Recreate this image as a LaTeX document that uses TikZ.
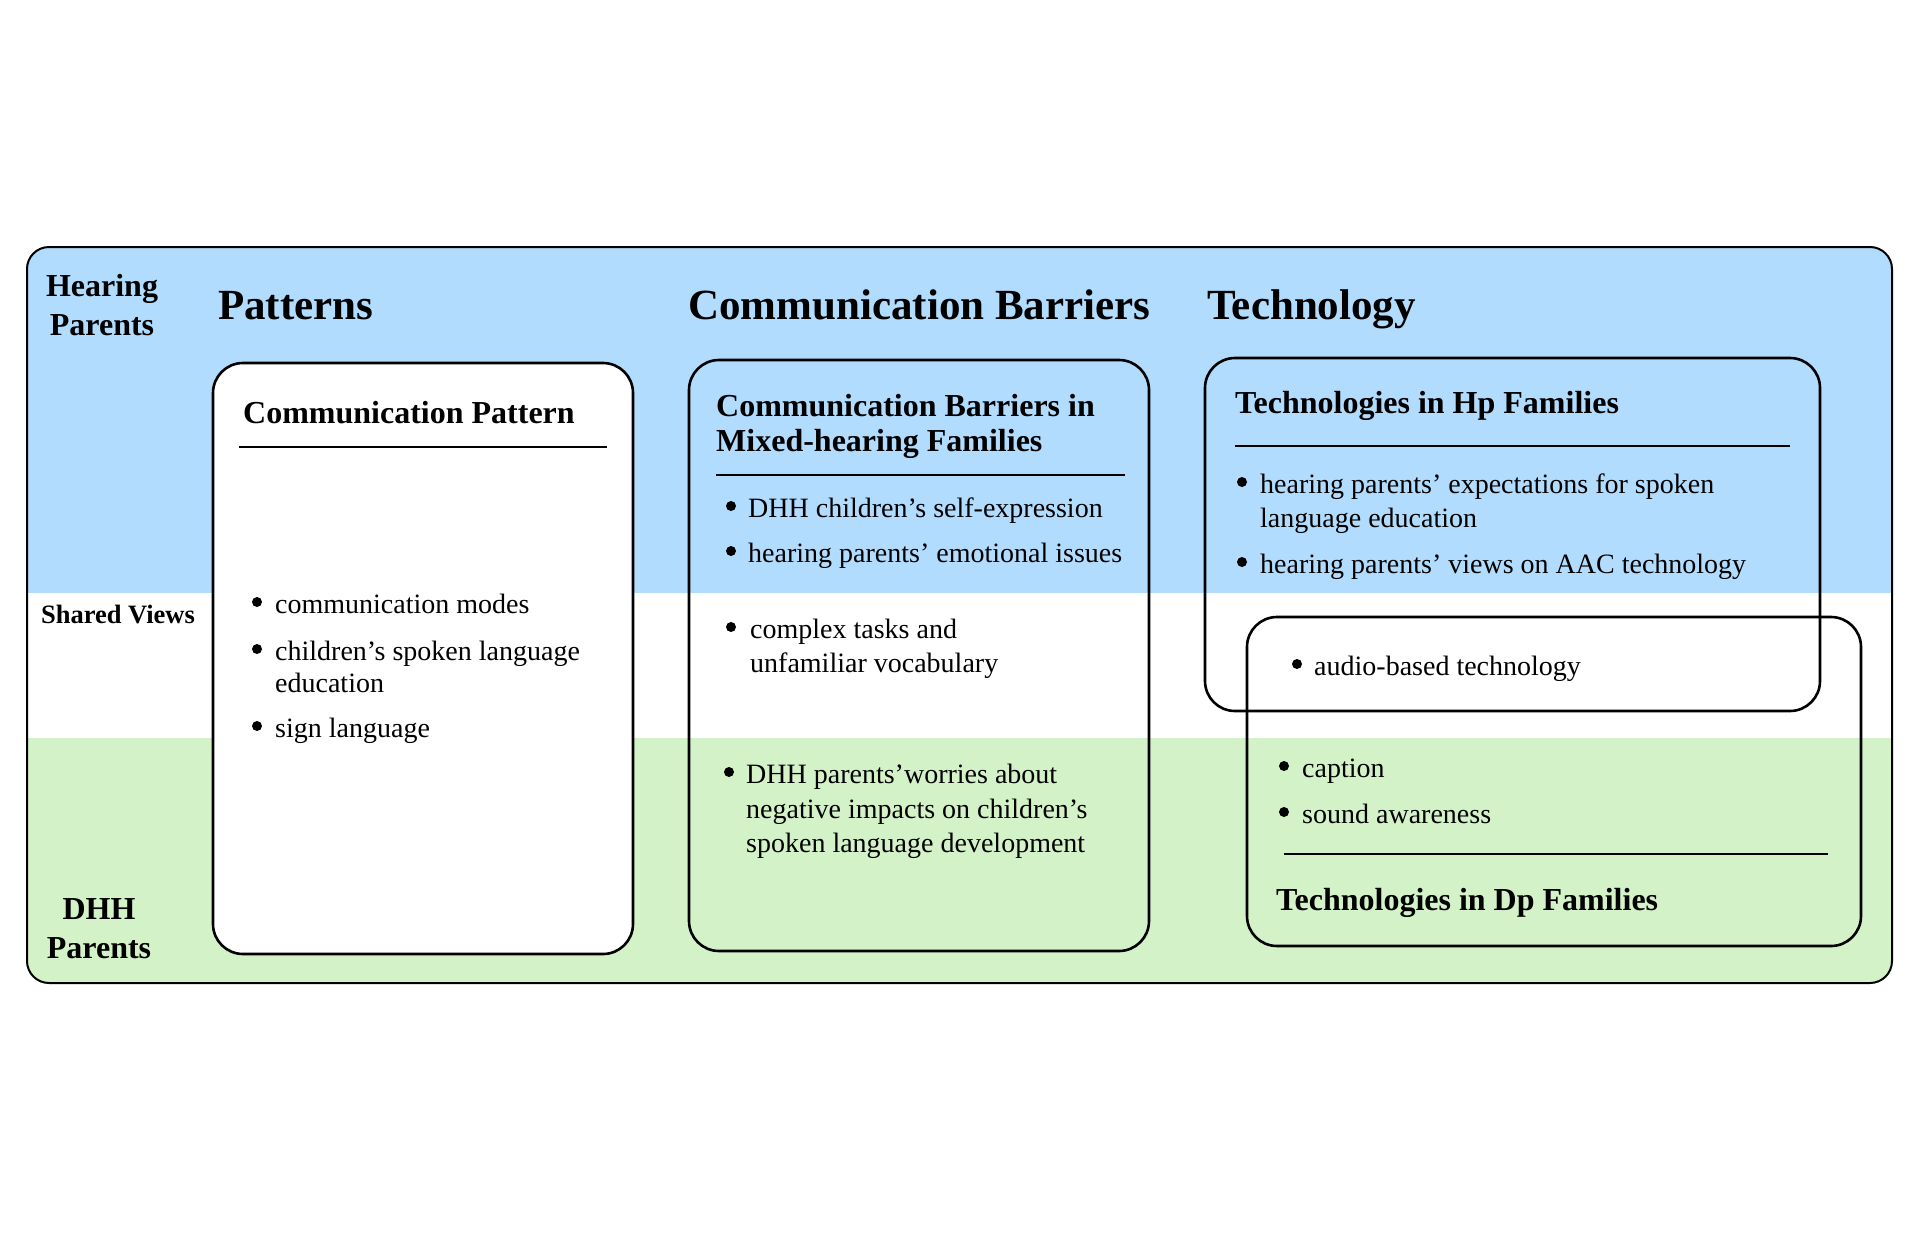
\documentclass[tikz,border=0pt]{standalone}
\usepackage{fontspec}
\setmainfont{Liberation Serif}
\definecolor{hpblue}{RGB}{178,220,253}
\definecolor{dpgreen}{RGB}{212,242,200}
\tikzset{
  bodytxt/.style={anchor=base west, inner sep=0pt, font=\fontsize{28}{33}\selectfont},
  boxhead/.style={anchor=base west, inner sep=0pt, font=\bfseries\fontsize{32}{38}\selectfont},
  colhead/.style={anchor=base west, inner sep=0pt, font=\bfseries\fontsize{43}{50}\selectfont},
  rowlab/.style={anchor=base, inner sep=0pt, font=\bfseries\fontsize{32}{38}\selectfont},
  panel/.style={draw, line width=2.6pt, rounded corners=30pt},
  rulel/.style={line width=1.6pt},
  dot/.style={fill=black}
}
% bullet point: dot x, text x, baseline y, name, text
\newcommand\bitem[5]{%
  \fill[dot] (#1,#3-11) circle (5);
  \node[bodytxt] (#4) at (#2,#3) {#5};}
\newcommand\bline[4]{\node[bodytxt] (#3) at (#1,#2) {#4};}
\begin{document}
\begin{tikzpicture}[x=1pt,y=-1pt]
\useasboundingbox (0,0) rectangle (1923,1237);

% horizontal bands inside the frame
\begin{scope}
  \clip[rounded corners=22pt] (27,247) rectangle (1892,983);
  \fill[hpblue] (0,0) rectangle (1923,593);
  \fill[white] (0,593) rectangle (1923,738);
  \fill[dpgreen] (0,738) rectangle (1923,983);
\end{scope}
\draw[line width=2pt, rounded corners=22pt] (27,247) rectangle (1892,983);

% row labels
\node[rowlab] (hp1) at (102,296) {Hearing};
\node[rowlab] (hp2) at (102,335) {Parents};
\node[rowlab, font=\bfseries\fontsize{26.5}{32}\selectfont] (sv) at (118,623) {Shared Views};
\node[rowlab] (dp1) at (99,919) {DHH};
\node[rowlab] (dp2) at (99,958) {Parents};

% column headings
\node[colhead] (h1) at (218,319) {Patterns};
\node[colhead] (h2) at (688,319) {Communication Barriers};
\node[colhead] (h3) at (1207,319) {Technology};

% ---- Patterns column ----
\draw[panel, fill=white] (213,363) rectangle (633,954);
\node[boxhead] (cp) at (243,423) {Communication Pattern};
\draw[rulel] (239,447) -- (607,447);
\bitem{257}{275}{613}{p1}{communication modes}
\bitem{257}{275}{660}{p2}{children’s spoken language}
\bline{275}{692}{p2b}{education}
\bitem{257}{275}{737}{p3}{sign language}

% ---- Communication Barriers column ----
\draw[panel] (689,360) rectangle (1149,951);
\node[boxhead] (cb1) at (716,416) {Communication Barriers in};
\node[boxhead] (cb2) at (716,451) {Mixed-hearing Families};
\draw[rulel] (716,475) -- (1125,475);
\bitem{731}{748}{517}{b1}{DHH children’s self-expression}
\bitem{731}{748}{562}{b2}{hearing parents’ emotional issues}
\bitem{731}{750}{638}{b3}{complex tasks and}
\bline{750}{672}{b3b}{unfamiliar vocabulary}
\bitem{729}{746}{783}{b4}{DHH parents’worries about}
\bline{746}{818}{b4b}{negative impacts on children’s}
\bline{746}{852}{b4c}{spoken language development}

% ---- Technology column ----
\draw[panel] (1205,358) rectangle (1820,711);
\draw[panel] (1247,617) rectangle (1861,946);
\node[boxhead] (thp) at (1235,413) {Technologies in Hp Families};
\draw[rulel] (1235,446) -- (1790,446);
\bitem{1242}{1260}{493}{t1}{hearing parents’ expectations for spoken}
\bitem{1242}{1260}{573}{t2}{hearing parents’ views on AAC technology}
\bline{1260}{527}{t1b}{language education}
\bitem{1297}{1314}{675}{t3}{audio-based technology}
\bitem{1284}{1302}{777}{t4}{caption}
\bitem{1284}{1302}{823}{t5}{sound awareness}
\draw[rulel] (1284,854) -- (1828,854);
\node[boxhead] (tdp) at (1276,910) {Technologies in Dp Families};
\end{tikzpicture}
\end{document}
